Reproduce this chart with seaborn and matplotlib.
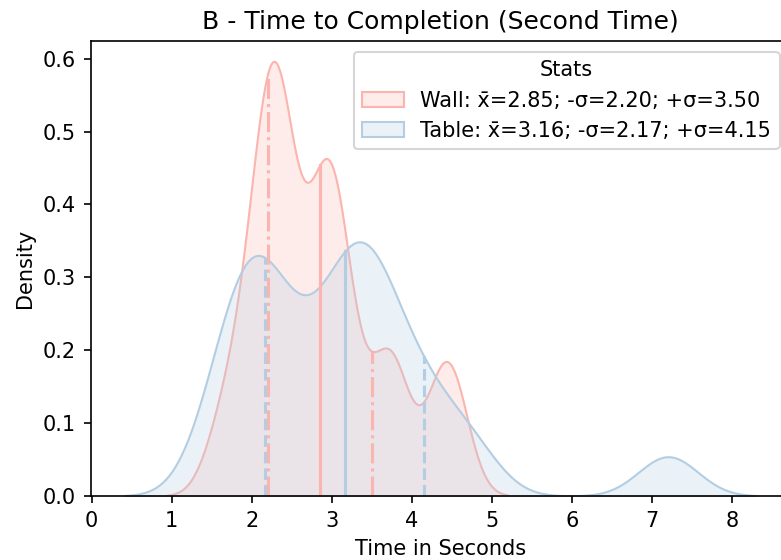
import numpy as np
import pandas as pd
import matplotlib
matplotlib.use("Agg")
import matplotlib.pyplot as plt
import seaborn as sns
from matplotlib.patches import Patch
from matplotlib.colors import to_rgba

# Completion times (seconds) for the second attempt, per condition
wall_times = [1.66, 1.96, 2.10, 2.22, 2.26, 2.30, 2.34, 2.40, 2.62,
              2.92, 2.94, 2.98, 3.00, 3.24, 3.71, 3.75, 4.40, 4.48]
table_times = [1.52, 1.74, 1.88, 1.98, 2.08, 2.20, 2.36, 2.54, 2.88, 3.00,
               3.18, 3.31, 3.38, 3.50, 3.62, 3.80, 4.05, 4.33, 4.76, 7.20]

groups = ["Wall", "Table"]
mean_values = [2.85, 3.16]
minus_sigma = [2.20, 2.17]
plus_sigma = [3.50, 4.15]

# smoothing width of each density curve, in seconds
kernel_sd = [0.24, 0.37]
sigma_styles = ["-.", "--"]
palette = sns.color_palette("Pastel1", 2)

df = pd.DataFrame({
    "time": wall_times + table_times,
    "group": ["Wall"] * len(wall_times) + ["Table"] * len(table_times),
})

fig = plt.figure(figsize=(782 / 150, 560 / 150), dpi=150)
ax = fig.add_axes([0.1160, 0.1143, 0.8942, 0.8116])


def density_at(x, values, sd):
    v = np.asarray(values, dtype=float)
    return np.exp(-0.5 * ((x - v) / sd) ** 2).sum() / (len(v) * sd * np.sqrt(2 * np.pi))


# density curves
for g, color, sd in zip(groups, palette, kernel_sd):
    values = df.loc[df["group"] == g, "time"].to_numpy()
    sns.kdeplot(x=values, ax=ax, fill=True, color=color, alpha=0.25,
                linewidth=1.0, bw_method=sd / np.std(values, ddof=1))

# mean and +/- sigma markers, drawn up to the curve
handles = []
for g, color, sd, mu, lo, hi, ls in zip(groups, palette, kernel_sd, mean_values,
                                        minus_sigma, plus_sigma, sigma_styles):
    values = df.loc[df["group"] == g, "time"].to_numpy()
    for x, style in ((lo, ls), (mu, "-"), (hi, ls)):
        ax.plot([x, x], [0, density_at(x, values, sd)], color=color,
                linestyle=style, linewidth=1.5)
    handles.append(Patch(facecolor=to_rgba(color, 0.25), edgecolor=color,
                         linewidth=1.0,
                         label=f"{g}: x\u0304={mu:.2f}; -\u03c3={lo:.2f}; +\u03c3={hi:.2f}"))

ax.legend(handles=handles, title="Stats", loc="upper right")
ax.set_xlim(-0.01, 8.72)
ax.set_ylim(0, 0.6235)
ax.set_xlabel("Time in Seconds")
ax.set_ylabel("Density")
ax.set_title("B - Time to Completion (Second Time)")

fig.savefig("out.png", dpi=150)
